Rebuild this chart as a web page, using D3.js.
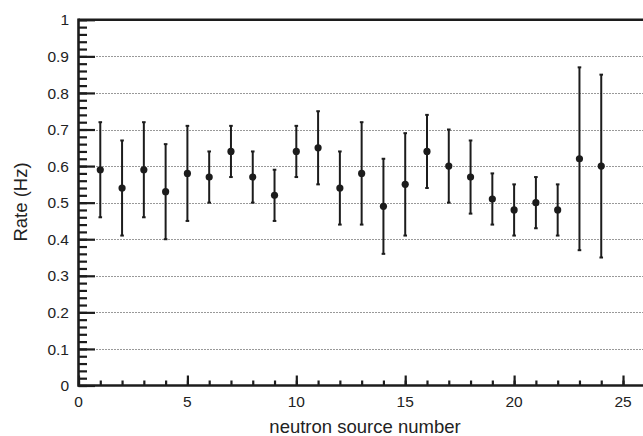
<!DOCTYPE html>
<html>
<head>
<meta charset="utf-8">
<script src="https://cdn.jsdelivr.net/npm/d3@7"></script>
<style>
  html, body { margin: 0; padding: 0; background: #fff; }
  svg { display: block; font-family: "Liberation Sans", Arial, Helvetica, sans-serif; }
</style>
</head>
<body>
<svg id="chart" width="643" height="436"></svg>
<script>
// ---- data ----
const sourceNumbers = [1,2,3,4,5,6,7,8,9,10,11,12,13,14,15,16,17,18,19,20,21,22,23,24];
const rates = [0.59,0.54,0.59,0.53,0.58,0.57,0.64,0.57,0.52,0.64,0.65,0.54,0.58,0.49,0.55,0.64,0.60,0.57,0.51,0.48,0.50,0.48,0.62,0.60];
const rateErrors = [0.13,0.13,0.13,0.13,0.13,0.07,0.07,0.07,0.07,0.07,0.10,0.10,0.14,0.13,0.14,0.10,0.10,0.10,0.07,0.07,0.07,0.07,0.25,0.25];
const xTickValues = [0,5,10,15,20,25];
const yTickValues = [0,0.1,0.2,0.3,0.4,0.5,0.6,0.7,0.8,0.9,1];
const gridValues = [0.1,0.2,0.3,0.4,0.5,0.6,0.7,0.8,0.9];
const xLabel = "neutron source number";
const yLabel = "Rate (Hz)";

const svg = d3.select("#chart");
const ink = "#1c1c1c";

const x = d3.scaleLinear().domain([0, 26]).range([78.5, 644.8]);
const y = d3.scaleLinear().domain([0, 1]).range([385.5, 19.8]);

// grid
svg.append("g").selectAll("line").data(gridValues).join("line")
  .attr("x1", x(0)).attr("x2", 643)
  .attr("y1", d => Math.round(y(d)) + 0.5).attr("y2", d => Math.round(y(d)) + 0.5)
  .attr("stroke", "#333").attr("stroke-width", 1)
  .attr("stroke-dasharray", "1,2");

// y axis (ticks inward)
const yMinor = d3.range(0, 1.0001, 0.02);
const yAxisMinor = d3.axisRight(y).tickValues(yMinor).tickSize(8.5).tickFormat("");
const yAxisMajor = d3.axisRight(y).tickValues(yTickValues).tickSize(16.5).tickFormat("");
[yAxisMinor, yAxisMajor].forEach(ax => {
  const g = svg.append("g").attr("transform", `translate(${x(0)},0)`).call(ax);
  g.select(".domain").remove();
  g.selectAll(".tick line").attr("stroke", ink).attr("stroke-width", 2.2);
});

// x axis (ticks inward, upward)
const xMinor = d3.range(0, 27, 1);
const xAxisMinor = d3.axisTop(x).tickValues(xMinor).tickSize(5).tickFormat("");
const xAxisMajor = d3.axisTop(x).tickValues(xTickValues).tickSize(10).tickFormat("");
[xAxisMinor, xAxisMajor].forEach(ax => {
  const g = svg.append("g").attr("transform", `translate(0,${y(0)})`).call(ax);
  g.select(".domain").remove();
  g.selectAll(".tick line").attr("stroke", ink).attr("stroke-width", 2.2);
});

// frame lines (left, bottom, top)
svg.append("line").attr("x1", x(0)).attr("x2", x(0)).attr("y1", y(1) - 1.2).attr("y2", y(0) + 1.2)
  .attr("stroke", ink).attr("stroke-width", 2.6);
svg.append("line").attr("x1", x(0)).attr("x2", 643).attr("y1", y(0)).attr("y2", y(0))
  .attr("stroke", ink).attr("stroke-width", 2.6);
svg.append("line").attr("x1", x(0)).attr("x2", 643).attr("y1", y(1)).attr("y2", y(1))
  .attr("stroke", ink).attr("stroke-width", 2.6);

// tick labels
const fmtY = d => d === 0 ? "0" : d === 1 ? "1" : d3.format(".1f")(d);
svg.append("g").selectAll("text").data(yTickValues).join("text")
  .attr("x", 69).attr("y", d => y(d)).attr("dy", "0.36em")
  .attr("text-anchor", "end").attr("font-size", 15.5).attr("fill", "#222")
  .text(fmtY);
svg.append("g").selectAll("text").data(xTickValues).join("text")
  .attr("x", d => x(d)).attr("y", 407)
  .attr("text-anchor", "middle").attr("font-size", 15.5).attr("fill", "#222")
  .text(d => d);

// axis titles
svg.append("text").attr("x", 365).attr("y", 433)
  .attr("text-anchor", "middle").attr("font-size", 18.5).attr("fill", "#222")
  .text(xLabel);
svg.append("text").attr("transform", "translate(27,202) rotate(-90)")
  .attr("text-anchor", "middle").attr("font-size", 18.5).attr("fill", "#222")
  .text(yLabel);

// error bars + points
const pts = sourceNumbers.map((n, i) => ({n, v: rates[i], e: rateErrors[i]}));
const eb = svg.append("g");
eb.selectAll("line.bar").data(pts).join("line").attr("class", "bar")
  .attr("x1", d => x(d.n)).attr("x2", d => x(d.n))
  .attr("y1", d => y(d.v + d.e)).attr("y2", d => y(d.v - d.e))
  .attr("stroke", ink).attr("stroke-width", 2);
eb.selectAll("line.capt").data(pts).join("line").attr("class", "capt")
  .attr("x1", d => x(d.n) - 1.8).attr("x2", d => x(d.n) + 1.8)
  .attr("y1", d => y(d.v + d.e)).attr("y2", d => y(d.v + d.e))
  .attr("stroke", ink).attr("stroke-width", 2);
eb.selectAll("line.capb").data(pts).join("line").attr("class", "capb")
  .attr("x1", d => x(d.n) - 1.8).attr("x2", d => x(d.n) + 1.8)
  .attr("y1", d => y(d.v - d.e)).attr("y2", d => y(d.v - d.e))
  .attr("stroke", ink).attr("stroke-width", 2);
eb.selectAll("circle").data(pts).join("circle")
  .attr("cx", d => x(d.n)).attr("cy", d => y(d.v)).attr("r", 3.6)
  .attr("fill", ink);
</script>
</body>
</html>
